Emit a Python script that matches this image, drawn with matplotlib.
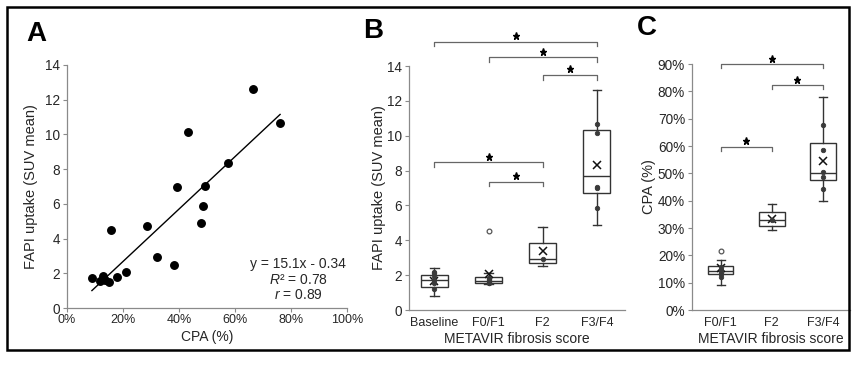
import matplotlib
matplotlib.use('Agg')
import matplotlib.pyplot as plt
from matplotlib.patches import Rectangle
from matplotlib.ticker import FuncFormatter

plt.rcParams['font.family'] = ['Liberation Sans', 'DejaVu Sans']
plt.rcParams['mathtext.fontset'] = 'custom'
plt.rcParams['mathtext.rm'] = 'Liberation Sans'
plt.rcParams['mathtext.it'] = 'Liberation Sans:italic'

# ---------------- Panel A data ----------------
cpa = [8.9, 11.9, 13.0, 13.6, 14.9, 15.6, 18.0, 21.1, 28.6, 32.2, 38.1, 39.3,
       43.1, 47.7, 48.6, 49.4, 57.6, 66.3, 76.1]
suv = [1.73, 1.58, 1.86, 1.62, 1.51, 4.51, 1.77, 2.09, 4.75, 2.92, 2.50, 7.00,
       10.15, 4.88, 5.86, 7.03, 8.33, 12.62, 10.65]
slope, intercept = 15.1, -0.34
fit_text = ["y = 15.1x - 0.34", "$R$² = 0.78", "$r$ = 0.89"]

# ---------------- Panel B data ----------------
groups_b = ['Baseline', 'F0/F1', 'F2', 'F3/F4']
b_q1 = [1.30, 1.53, 2.72, 6.69]
b_med = [1.72, 1.66, 2.92, 7.69]
b_q3 = [2.00, 1.88, 3.83, 10.30]
b_lo = [0.82, 1.47, 2.50, 4.89]
b_hi = [2.43, 2.11, 4.75, 12.62]
b_mean = [1.65, 2.09, 3.39, 8.32]
b_points = [[1.20, 1.55, 1.75, 1.95, 2.10, 2.20],
            [1.53, 1.57, 1.63, 1.73, 1.78, 1.86],
            [2.92],
            [5.87, 7.00, 7.04, 10.15, 10.65]]
b_outliers = [[], [4.51], [], []]
b_brackets = [(1, 4), (2, 4), (3, 4), (1, 3), (2, 3)]
b_bracket_y = [15.39, 14.5, 13.48, 8.47, 7.36]

# ---------------- Panel C data ----------------
groups_c = ['F0/F1', 'F2', 'F3/F4']
c_q1 = [13.2, 30.9, 47.6]
c_med = [14.4, 32.8, 50.0]
c_q3 = [16.1, 35.7, 61.0]
c_lo = [9.2, 29.3, 40.0]
c_hi = [18.2, 38.8, 77.8]
c_mean = [15.3, 33.2, 54.5]
c_points = [[12.2, 13.0, 13.6, 14.8, 15.6],
            [32.9],
            [44.2, 48.8, 50.6, 58.5, 67.7]]
c_outliers = [[21.6], [], []]
c_brackets = [(1, 3), (2, 3), (1, 2)]
c_bracket_y = [90.0, 82.3, 59.7]

W, H = 856, 371
fig = plt.figure(figsize=(W / 100, H / 100), dpi=100)

SPINE = '#8a8a8a'
TXT = '#262626'
YTICK_FS = 9.8
XTICK_FS = 9
LABEL_FS = 10


def ax_rect(x0, x1, y_bottom_px, y_top_px):
    return [x0 / W, 1 - y_bottom_px / H, (x1 - x0) / W, (y_bottom_px - y_top_px) / H]


def style_axes(ax, xticks_out=False):
    for s in ['top', 'right']:
        ax.spines[s].set_visible(False)
    for s in ['left', 'bottom']:
        ax.spines[s].set_color(SPINE)
        ax.spines[s].set_linewidth(0.9)
    ax.tick_params(axis='y', direction='out', length=3, width=0.8, color=SPINE,
                   labelsize=YTICK_FS, labelcolor=TXT, pad=2)
    if xticks_out:
        ax.tick_params(axis='x', direction='out', length=3, width=0.8, color=SPINE,
                       labelsize=XTICK_FS, labelcolor=TXT, pad=1.2)
    else:
        ax.tick_params(axis='x', length=0, labelsize=XTICK_FS, labelcolor=TXT, pad=5)


# ---------------- Panel A ----------------
axA = fig.add_axes(ax_rect(67, 347, 308, 65))
style_axes(axA, xticks_out=True)
axA.plot(cpa, suv, 'o', color='black', ms=5.4, mec='black', zorder=3)
xf = [min(cpa), max(cpa)]
axA.plot(xf, [slope * x / 100 + intercept for x in xf], color='black', lw=1.0)
axA.set_xlim(0, 100)
axA.set_ylim(0, 14)
axA.set_xticks(range(0, 101, 20))
axA.xaxis.set_major_formatter(FuncFormatter(lambda v, p: f"{int(v)}%"))
axA.set_yticks(range(0, 15, 2))
axA.set_xlabel('CPA (%)', fontsize=LABEL_FS, color=TXT, labelpad=3)
axA.set_ylabel('FAPI uptake (SUV mean)', fontsize=10.5, color=TXT, labelpad=5)
for t, yv in zip(fit_text, [2.53, 1.61, 0.75]):
    axA.text(82.5, yv, t, ha='center', va='center', fontsize=10, color=TXT)


def draw_boxes(ax, q1, med, q3, lo, hi, mean, pts, outs):
    stats = []
    for i in range(len(q1)):
        stats.append(dict(q1=q1[i], med=med[i], q3=q3[i], whislo=lo[i], whishi=hi[i],
                          mean=mean[i], fliers=[]))
    pos = list(range(1, len(q1) + 1))
    ax.bxp(stats, positions=pos, widths=0.5, showmeans=True, patch_artist=True,
           boxprops=dict(facecolor='white', edgecolor='#333333', linewidth=1.0),
           medianprops=dict(color='#333333', linewidth=1.0),
           whiskerprops=dict(color='#333333', linewidth=1.0),
           capprops=dict(color='#333333', linewidth=1.0),
           capwidths=0.16,
           meanprops=dict(marker='x', markeredgecolor='#111111', markersize=5.5,
                          markeredgewidth=1.1),
           manage_ticks=False)
    for i, p in enumerate(pos):
        ax.plot([p] * len(pts[i]), pts[i], 'o', ms=3.2, mfc='#3a3a3a', mec='#3a3a3a',
                mew=0.6, zorder=4)
        if outs[i]:
            ax.plot([p] * len(outs[i]), outs[i], 'o', ms=3.4, mfc='white', mec='#555555',
                    mew=0.9, zorder=4)


def draw_brackets(ax, pairs, ys, drop, star_off):
    for (a, b), yv in zip(pairs, ys):
        ax.plot([a, a, b, b], [yv - drop, yv, yv, yv - drop], color='#666666', lw=0.9,
                clip_on=False)
        ax.plot([(a + b) / 2], [yv + star_off], marker='*', color='black', ms=5.2,
                clip_on=False)


# ---------------- Panel B ----------------
axB = fig.add_axes(ax_rect(409, 625, 310, 66))
style_axes(axB)
draw_boxes(axB, b_q1, b_med, b_q3, b_lo, b_hi, b_mean, b_points, b_outliers)
axB.set_xlim(0.53, 4.52)
axB.set_ylim(0, 14)
axB.set_yticks(range(0, 15, 2))
axB.set_xticks(range(1, 5))
axB.set_xticklabels(groups_b)
axB.set_xlabel('METAVIR fibrosis score', fontsize=LABEL_FS, color=TXT, labelpad=2)
axB.set_ylabel('FAPI uptake (SUV mean)', fontsize=10.5, color=TXT, labelpad=1)
draw_brackets(axB, b_brackets, b_bracket_y, 0.27, 0.32)

# ---------------- Panel C ----------------
axC = fig.add_axes(ax_rect(692, 850, 310, 64))
style_axes(axC)
draw_boxes(axC, c_q1, c_med, c_q3, c_lo, c_hi, c_mean, c_points, c_outliers)
axC.set_xlim(0.44, 3.53)
axC.set_ylim(0, 90)
axC.set_yticks(range(0, 91, 10))
axC.yaxis.set_major_formatter(FuncFormatter(lambda v, p: f"{int(v)}%"))
axC.set_xticks(range(1, 4))
axC.set_xticklabels(groups_c)
axC.set_xlabel('METAVIR fibrosis score', fontsize=LABEL_FS, color=TXT, labelpad=2)
axC.set_ylabel('CPA (%)', fontsize=10.5, color=TXT, labelpad=1)
draw_brackets(axC, c_brackets, c_bracket_y, 1.5, 2.0)

# panel letters
for lab, xp, yp in [('A', 36, 34), ('B', 373, 31), ('C', 647, 28)]:
    fig.text(xp / W, 1 - yp / H, lab, fontsize=20, fontweight='bold', ha='center',
             va='center', color='black')

# outer frame
fig.patches.append(Rectangle((7 / W, 1 - 350 / H), (849 - 7) / W, (350 - 7) / H,
                             transform=fig.transFigure, fill=False, ec='black', lw=1.8))

fig.savefig('out.png', dpi=100, facecolor='white')
